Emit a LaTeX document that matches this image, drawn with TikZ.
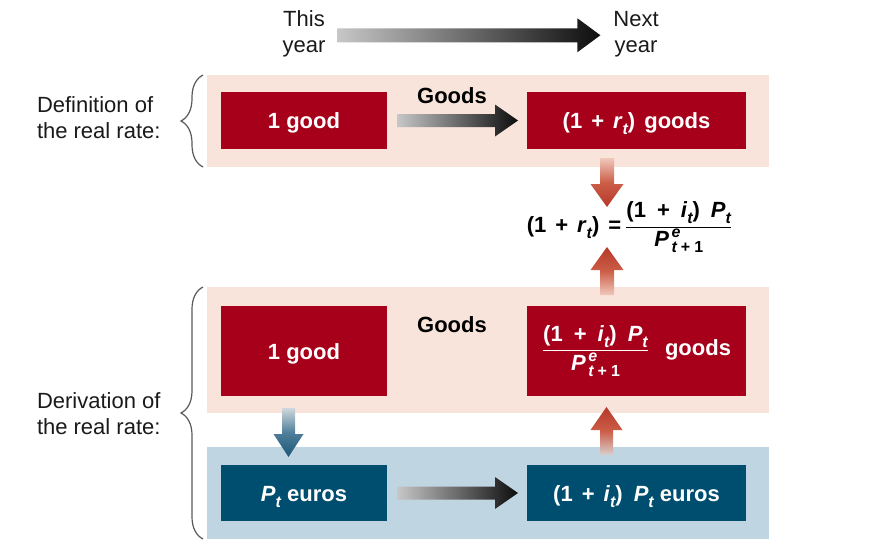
\documentclass[tikz,border=0pt]{standalone}
\usepackage{fontspec}
\setmainfont{Liberation Sans}
\usetikzlibrary{calc,decorations.pathreplacing}
\definecolor{bandpink}{HTML}{F8E4DA}
\definecolor{bandblue}{HTML}{C0D5E2}
\definecolor{boxred}{HTML}{A6001A}
\definecolor{boxblue}{HTML}{004E6F}
\definecolor{bracegray}{HTML}{5A5A5A}
\definecolor{labeltext}{HTML}{1A1A1A}
\definecolor{redtail}{HTML}{F0C8BC}
\definecolor{redmid}{HTML}{CC5E47}
\definecolor{redtip}{HTML}{B5382A}
\definecolor{graytail}{HTML}{D8D0CF}
\definecolor{bluetail}{HTML}{D0D8DD}
\definecolor{bluemid}{HTML}{4F7F9A}
\definecolor{bluetip}{HTML}{1B5676}
\newcommand\wsp{\hspace{9pt}}
\newcommand\fsp{\hspace{11pt}}
\newcommand\vsub[1]{\raisebox{-6pt}{\fontsize{16}{16}\selectfont\itshape #1}}
\newcommand\vsup[1]{\raisebox{9pt}{\fontsize{16}{16}\selectfont\itshape #1}}
\newcommand\Pnext{\textit{P}\rlap{\vsup{\,e}}\vsub{\,t\hspace{4pt}{\upshape +}\hspace{4pt}{\upshape 1}}}
\newcommand\Pt{\textit{P}\vsub{t}}
\newcommand\myfrac[2]{$\displaystyle\frac{\mbox{#1}}{\mbox{#2}}$}
\newcommand\myRightArrow[6]{%
  \shade[left color=#5, right color=#6] let \p1=(#1), \p2=(#2) in
   (\x1,\y1+#3) -- (\x2-23pt,\y1+#3) -- (\x2-23pt,\y1+#4) -- (\x2,\y1) --
   (\x2-23pt,\y1-#4) -- (\x2-23pt,\y1-#3) -- (\x1,\y1-#3) -- cycle;}
\newcommand\myDownArrow[7]{%
  \shade[top color=#5, bottom color=#7, middle color=#6] let \p1=(#1), \p2=(#2) in
   (\x1-#3,\y1) -- (\x1+#3,\y1) -- (\x1+#3,\y2+23pt) -- (\x1+#4,\y2+23pt) --
   (\x1,\y2) -- (\x1-#4,\y2+23pt) -- (\x1-#3,\y2+23pt) -- cycle;}
\newcommand\myUpArrow[7]{%
  \shade[bottom color=#5, top color=#7, middle color=#6] let \p1=(#1), \p2=(#2) in
   (\x1-#3,\y1) -- (\x1+#3,\y1) -- (\x1+#3,\y2-23pt) -- (\x1+#4,\y2-23pt) --
   (\x1,\y2) -- (\x1-#4,\y2-23pt) -- (\x1-#3,\y2-23pt) -- cycle;}
\begin{document}
\begin{tikzpicture}[x=1pt,y=-1pt,
  every node/.style={inner sep=0pt, outer sep=0pt},
  txt/.style={font=\fontsize{22}{26}\selectfont, text=labeltext},
  band/.style={fill=#1, draw=none, minimum width=562pt},
  boxtxt/.style={font=\fontsize{22}{26}\selectfont\bfseries, text=white},
  rbox/.style={boxtxt, fill=boxred},
  bbox/.style={boxtxt, fill=boxblue},
  oneline/.style={text height=16pt, text depth=0pt},
  narrow/.style={minimum width=166pt},
  wide/.style={minimum width=219pt},
  bracestyle/.style={draw=bracegray, line width=1.2pt, decorate,
    decoration={brace, amplitude=22pt}}]
\useasboundingbox (0,0) rectangle (892,543);

% bands
\node[band=bandpink, minimum height=92pt] (band1) at (488,121) {};
\node[band=bandpink, minimum height=126pt] (band2) at (488,350) {};
\node[band=bandblue, minimum height=92pt] (band3) at (488,493) {};

% boxes
\node[rbox, oneline, narrow, minimum height=57pt] (b1) at (304,120.5) {1 good};
\node[rbox, oneline, wide, minimum height=57pt] (b2) at (636.5,120.5)
  {(1\wsp+\wsp\textit{r}\vsub{t})\wsp goods};
\node[rbox, oneline, narrow, minimum height=90pt] (b3) at (304,351) {1 good};
\node[rbox, wide, minimum height=90pt] (b4) at (636.5,351)
  {\myfrac{(1\fsp+\fsp\textit{i}\vsub{t})\fsp\Pt}{\Pnext}\hspace{16pt}goods};
\node[bbox, oneline, narrow, minimum height=56pt] (b5) at (304,493) {\Pt\ euros};
\node[bbox, oneline, wide, minimum height=56pt] (b6) at (636.5,493)
  {(1\wsp+\wsp\textit{i}\vsub{t})\hspace{11pt}\Pt\ euros};

% labels
\node[txt, align=center, anchor=north] (this) at (304,11) {This\\year};
\node[txt, align=center, anchor=north] (next) at (636,11) {Next\\year};
\node[txt, font=\fontsize{22}{26}\selectfont\bfseries, text=black] (g1) at (452,96) {Goods};
\node[txt, font=\fontsize{22}{26}\selectfont\bfseries, text=black] (g2) at (452,325) {Goods};
\node[txt, align=left, anchor=north west] (def) at (37,97) {Definition of\\the real rate:};
\node[txt, align=left, anchor=north west] (der) at (37,393) {Derivation of\\the real rate:};
\node[font=\fontsize{22}{26}\selectfont\bfseries, text=black, anchor=base] (eq) at (629.5,232)
  {(1\wsp+\wsp\textit{r}\vsub{t})\wsp=\hspace{4pt}\myfrac{(1\fsp+\fsp\textit{i}\vsub{t})\fsp\Pt}{\Pnext}};

% braces
\coordinate (br1a) at ($(band1.south west)+(-4,0)$);
\coordinate (br1b) at ($(band1.north west)+(-4,0)$);
\coordinate (br2a) at ($(band3.south west)+(-4,0)$);
\coordinate (br2b) at ($(band2.north west)+(-4,0)$);
\draw[bracestyle] (br1a) -- (br1b);
\draw[bracestyle] (br2a) -- (br2b);

% horizontal gradient arrows
\coordinate (ta) at ($(this.east)+(12,1)$);
\coordinate (tb) at ($(next.west)+(-13,1)$);
\myRightArrow{ta}{tb}{7pt}{17pt}{black!22}{black!95}
\coordinate (ga) at ($(b1.east)+(10,0)$);
\coordinate (gb) at ($(b2.west)+(-9,0)$);
\myRightArrow{ga}{gb}{6.5pt}{16pt}{black!22}{black!95}
\coordinate (ea) at ($(b5.east)+(10,0)$);
\coordinate (eb) at ($(b6.west)+(-9,0)$);
\myRightArrow{ea}{eb}{6.5pt}{16pt}{black!22}{black!95}

% vertical gradient arrows
\coordinate (rdA) at ($(b2.south)+(-29.5,9)$);
\coordinate (rdB) at ($(rdA)+(0,49)$);
\myDownArrow{rdA}{rdB}{7pt}{16.5pt}{redtail}{redmid}{redtip}
\coordinate (ruA) at ($(b4.north)+(-29.5,-11)$);
\coordinate (ruB) at ($(ruA)+(0,-48)$);
\myUpArrow{ruA}{ruB}{7pt}{16.5pt}{redtail}{redmid}{redtip}
\coordinate (buA) at ($(b3.south)+(-15.5,12)$);
\coordinate (buB) at ($(b5.north)+(-15.5,-8)$);
\myDownArrow{buA}{buB}{6.5pt}{15pt}{bluetail}{bluemid}{bluetip}
\coordinate (rlA) at ($(b6.north)+(-30,-10)$);
\coordinate (rlB) at ($(b4.south)+(-30,11)$);
\myUpArrow{rlA}{rlB}{6.5pt}{16pt}{graytail}{redmid}{redtip}
\end{tikzpicture}
\end{document}
